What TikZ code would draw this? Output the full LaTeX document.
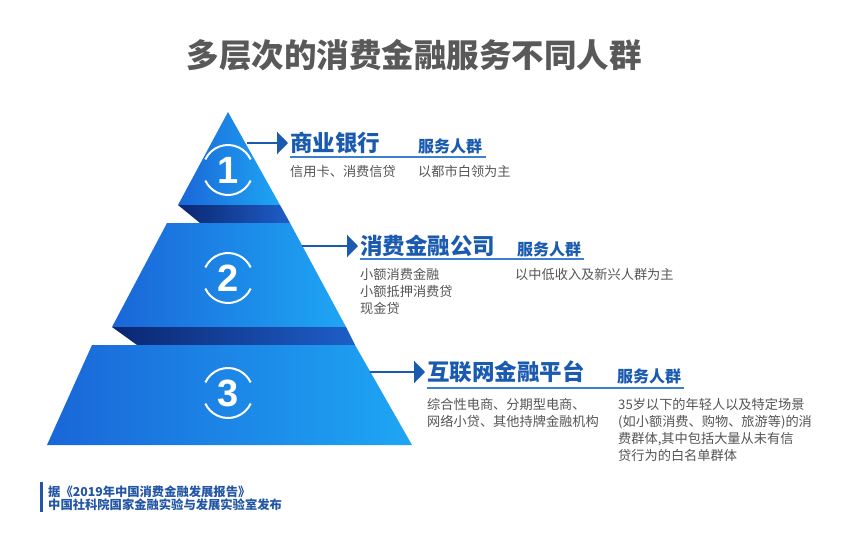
\documentclass[tikz,border=0pt]{standalone}
\usepackage{fontspec}
\setmainfont{Noto Sans CJK SC}
\newfontfamily\numfont{Liberation Sans}
\usetikzlibrary{arrows.meta}
\definecolor{tierL}{HTML}{1A66D8}
\definecolor{tierR}{HTML}{1EA6F4}
\definecolor{shadL}{HTML}{0B2670}
\definecolor{shadR}{HTML}{1E5EC8}
\definecolor{headblue}{HTML}{1A5BB0}
\definecolor{linblue}{HTML}{3D80CC}
\definecolor{txtgray}{HTML}{555555}
\definecolor{titlegray}{HTML}{595959}
\definecolor{footblue}{HTML}{2456A6}
\tikzset{
  tier/.style={left color=tierL, right color=tierR},
  shadowband/.style={left color=shadL, right color=shadR},
  ring/.style={draw=white, line width=2pt},
  numtxt/.style={text=white, font=\numfont\bfseries\fontsize{38}{38}\selectfont, inner sep=0},
  pointer/.style={draw=headblue, line width=2.4pt, -{Triangle[length=11pt,width=22pt]}, shorten >=2pt},
  headtxt/.style={text=headblue, font=\bfseries\fontsize{22.5}{26}\selectfont, anchor=west, inner sep=0},
  servtxt/.style={text=headblue, font=\bfseries\fontsize{16}{18}\selectfont, anchor=west, inner sep=0},
  subtxt/.style={text=txtgray, font=\fontsize{13.2}{17.2}\selectfont, anchor=north west, inner sep=0, align=left},
  uline/.style={draw=linblue, line width=1.2pt},
}
\begin{document}
\begin{tikzpicture}[x=1pt,y=-1pt]
\useasboundingbox (0,0) rectangle (864,555);
\fill[white] (0,0) rectangle (864,555);
% title
\node[text=titlegray, font=\bfseries\fontsize{32.5}{36}\selectfont, inner sep=0] (title) at (414,55) {多层次的消费金融服务不同人群};
% pyramid
\shade[tier] (228,112) -- (280,205) -- (178,205) -- cycle;
\shade[shadowband] (178,205) -- (280,205) -- (290,223) -- (200,223) -- cycle;
\shade[tier] (167,223) -- (290,223) -- (346,327) -- (112,327) -- cycle;
\shade[shadowband] (112,327) -- (346,327) -- (355,345) -- (137,345) -- cycle;
\shade[tier] (92,345) -- (355,345) -- (412,445) -- (47,445) -- cycle;
% rings and numbers
\foreach \i/\yy in {1/170,2/278,3/393}{
  \coordinate (c\i) at (228,\yy);
  \draw[ring] (c\i) ++(25:25) arc (25:155:25);
  \draw[ring] (c\i) ++(205:25) arc (205:335:25);
  \node[numtxt] (n\i) at (c\i) {\i};
}
% tier 1
\coordinate (a1) at (247,143);
\node[headtxt] (h1) at (290,143) {商业银行};
\node[servtxt] (s1) at (418,146) {服务人群};
\draw[pointer] (a1) -- (h1.west);
\coordinate (u1a) at (290,157);
\coordinate (u1b) at (486,157);
\draw[uline] (u1a) -- (u1b);
\node[subtxt] (d1) at (290,165) {信用卡、消费信贷};
\node[subtxt] (g1) at (418,165) {以都市白领为主};
% tier 2
\coordinate (a2) at (302,246);
\node[headtxt] (h2) at (360,246) {消费金融公司};
\node[servtxt] (s2) at (517,249) {服务人群};
\draw[pointer] (a2) -- (h2.west);
\coordinate (u2a) at (360,259);
\coordinate (u2b) at (584,259);
\draw[uline] (u2a) -- (u2b);
\node[subtxt] (d2) at (360,268) {小额消费金融\\小额抵押消费贷\\现金贷};
\node[subtxt] (g2) at (515,268) {以中低收入及新兴人群为主};
% tier 3
\coordinate (a3) at (370,372);
\node[headtxt] (h3) at (427,372) {互联网金融平台};
\node[servtxt] (s3) at (617,376) {服务人群};
\draw[pointer] (a3) -- (h3.west);
\coordinate (u3a) at (427,388);
\coordinate (u3b) at (684,388);
\draw[uline] (u3a) -- (u3b);
\node[subtxt] (d3) at (427,398) {综合性电商、分期型电商、\\网络小贷、其他持牌金融机构};
\node[subtxt] (g3) at (618,398) {35岁以下的年轻人以及特定场景\\(如小额消费、购物、旅游等)的消\\费群体,其中包括大量从未有信\\贷行为的白名单群体};
% footer
\fill[footblue] (40,482) rectangle (43,512);
\node[text=footblue, font=\bfseries\fontsize{12.3}{14}\selectfont, anchor=west, inner sep=0] (f1) at (48,492) {据《2019年中国消费金融发展报告》};
\node[text=footblue, font=\bfseries\fontsize{12.3}{14}\selectfont, anchor=west, inner sep=0] (f2) at (48,505) {中国社科院国家金融实验与发展实验室发布};
\end{tikzpicture}
\end{document}
